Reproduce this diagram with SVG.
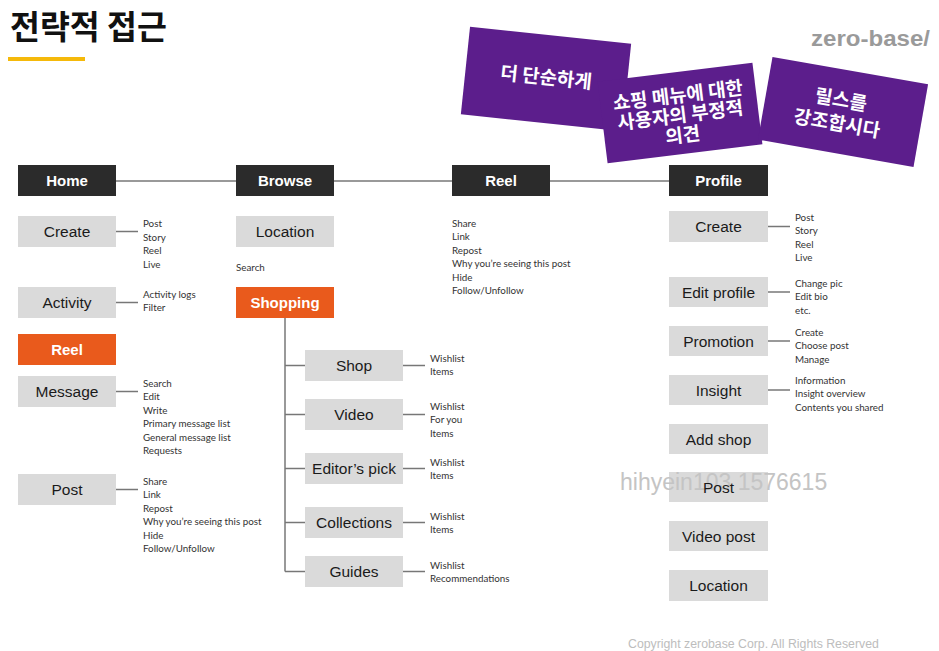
<svg xmlns="http://www.w3.org/2000/svg" width="939" height="651" viewBox="0 0 939 651">
<style>
.hd{fill:#2b2b2b}
.gb{fill:#dadada}
.ob{fill:#e95a1c}
.ht{font-family:"Liberation Sans",Arial,sans-serif;font-weight:bold;font-size:15px;fill:#fff;text-anchor:middle}
.gt{font-family:"Liberation Sans",Arial,sans-serif;font-size:15.5px;fill:#1a1a1a;text-anchor:middle}
.st{font-family:Lato,"Liberation Sans",sans-serif;font-size:9.8px;fill:#333}
.ln{stroke:#777;stroke-width:1.5;fill:none}
.note{fill:#5c1e8c}
.nt{font-family:"Noto Sans CJK KR",sans-serif;font-weight:bold;font-size:19px;fill:#fff;text-anchor:middle}
</style>
<rect width="939" height="651" fill="#fff"/>
<g id="title">
<text x="10" y="39" font-family="'Noto Sans CJK KR',sans-serif" font-weight="bold" font-size="32.5" fill="#111">전략적 접근</text>
<rect x="8" y="57" width="77" height="4" fill="#f5b90a"/>
</g>
<text id="logo" x="811" y="46" font-family="'Liberation Sans',Arial,sans-serif" font-weight="bold" font-size="22" fill="#9a9a9a" textLength="119" lengthAdjust="spacingAndGlyphs">zero-base/</text>

<g id="connectors">
<line class="ln" x1="116" y1="181" x2="669" y2="181"/>
<line class="ln" x1="116" y1="231.5" x2="138" y2="231.5"/>
<line class="ln" x1="116" y1="302.5" x2="138" y2="302.5"/>
<line class="ln" x1="116" y1="391.5" x2="138" y2="391.5"/>
<line class="ln" x1="116" y1="489.5" x2="138" y2="489.5"/>
<line class="ln" x1="285" y1="318" x2="285" y2="571.5"/>
<line class="ln" x1="285" y1="365.5" x2="305" y2="365.5"/>
<line class="ln" x1="285" y1="414.5" x2="305" y2="414.5"/>
<line class="ln" x1="285" y1="468.5" x2="305" y2="468.5"/>
<line class="ln" x1="285" y1="522.5" x2="305" y2="522.5"/>
<line class="ln" x1="285" y1="571.5" x2="305" y2="571.5"/>
<line class="ln" x1="403" y1="365.5" x2="425" y2="365.5"/>
<line class="ln" x1="403" y1="414.5" x2="425" y2="414.5"/>
<line class="ln" x1="403" y1="468.5" x2="425" y2="468.5"/>
<line class="ln" x1="403" y1="522.5" x2="425" y2="522.5"/>
<line class="ln" x1="403" y1="571.5" x2="425" y2="571.5"/>
<line class="ln" x1="768" y1="226.5" x2="790" y2="226.5"/>
<line class="ln" x1="768" y1="292" x2="790" y2="292"/>
<line class="ln" x1="768" y1="341" x2="790" y2="341"/>
<line class="ln" x1="768" y1="390" x2="790" y2="390"/>
</g>

<g id="home"><rect class="hd" x="18" y="165" width="98" height="31"/><text class="ht" x="67" y="186">Home</text></g>
<g id="browse"><rect class="hd" x="236" y="165" width="98" height="31"/><text class="ht" x="285" y="186">Browse</text></g>
<g id="reel"><rect class="hd" x="452" y="165" width="98" height="31"/><text class="ht" x="501" y="186">Reel</text></g>
<g id="profile"><rect class="hd" x="669" y="165" width="99" height="31"/><text class="ht" x="718.5" y="186">Profile</text></g>

<g id="home-create"><rect class="gb" x="18" y="216" width="98" height="31"/><text class="gt" x="67" y="237">Create</text>
<text class="st" x="143" y="227">Post</text><text class="st" x="143" y="240.5">Story</text><text class="st" x="143" y="254">Reel</text><text class="st" x="143" y="267.5">Live</text></g>
<g id="home-activity"><rect class="gb" x="18" y="287" width="98" height="31"/><text class="gt" x="67" y="308">Activity</text>
<text class="st" x="143" y="297.5">Activity logs</text><text class="st" x="143" y="311">Filter</text></g>
<g id="home-reel"><rect class="ob" x="18" y="334" width="98" height="31"/><text class="ht" x="67" y="355">Reel</text></g>
<g id="home-message"><rect class="gb" x="18" y="376" width="98" height="31"/><text class="gt" x="67" y="397">Message</text>
<text class="st" x="143" y="386.5">Search</text><text class="st" x="143" y="400">Edit</text><text class="st" x="143" y="413.5">Write</text><text class="st" x="143" y="427">Primary message list</text><text class="st" x="143" y="440.5">General message list</text><text class="st" x="143" y="454">Requests</text></g>
<g id="home-post"><rect class="gb" x="18" y="474" width="98" height="31"/><text class="gt" x="67" y="495">Post</text>
<text class="st" x="143" y="484.5">Share</text><text class="st" x="143" y="498">Link</text><text class="st" x="143" y="511.5">Repost</text><text class="st" x="143" y="525">Why you’re seeing this post</text><text class="st" x="143" y="538.5">Hide</text><text class="st" x="143" y="552">Follow/Unfollow</text></g>

<g id="browse-location"><rect class="gb" x="236" y="216" width="98" height="31"/><text class="gt" x="285" y="237">Location</text>
<text class="st" x="236" y="270.5">Search</text></g>
<g id="browse-shopping"><rect class="ob" x="236" y="287" width="98" height="31"/><text class="ht" x="285" y="308">Shopping</text></g>
<g id="shop"><rect class="gb" x="305" y="350" width="98" height="31"/><text class="gt" x="354" y="371">Shop</text>
<text class="st" x="430" y="361.5">Wishlist</text><text class="st" x="430" y="375">Items</text></g>
<g id="video"><rect class="gb" x="305" y="399" width="98" height="31"/><text class="gt" x="354" y="420">Video</text>
<text class="st" x="430" y="409.5">Wishlist</text><text class="st" x="430" y="423">For you</text><text class="st" x="430" y="436.5">Items</text></g>
<g id="editors-pick"><rect class="gb" x="305" y="453" width="98" height="31"/><text class="gt" x="354" y="474">Editor’s pick</text>
<text class="st" x="430" y="465.5">Wishlist</text><text class="st" x="430" y="479">Items</text></g>
<g id="collections"><rect class="gb" x="305" y="507" width="98" height="31"/><text class="gt" x="354" y="528">Collections</text>
<text class="st" x="430" y="519.5">Wishlist</text><text class="st" x="430" y="533">Items</text></g>
<g id="guides"><rect class="gb" x="305" y="556" width="98" height="31"/><text class="gt" x="354" y="577">Guides</text>
<text class="st" x="430" y="568.5">Wishlist</text><text class="st" x="430" y="582">Recommendations</text></g>

<g id="reel-items">
<text class="st" x="452" y="226.5">Share</text><text class="st" x="452" y="240">Link</text><text class="st" x="452" y="253.5">Repost</text><text class="st" x="452" y="267">Why you’re seeing this post</text><text class="st" x="452" y="280.5">Hide</text><text class="st" x="452" y="294">Follow/Unfollow</text>
</g>

<g id="profile-create"><rect class="gb" x="669" y="211" width="99" height="31"/><text class="gt" x="718.5" y="232">Create</text>
<text class="st" x="795" y="220.5">Post</text><text class="st" x="795" y="234">Story</text><text class="st" x="795" y="247.5">Reel</text><text class="st" x="795" y="261">Live</text></g>
<g id="edit-profile"><rect class="gb" x="669" y="277" width="99" height="30"/><text class="gt" x="718.5" y="297.5">Edit profile</text>
<text class="st" x="795" y="286.5">Change pic</text><text class="st" x="795" y="300">Edit bio</text><text class="st" x="795" y="313.5">etc.</text></g>
<g id="promotion"><rect class="gb" x="669" y="326" width="99" height="30"/><text class="gt" x="718.5" y="346.5">Promotion</text>
<text class="st" x="795" y="335.5">Create</text><text class="st" x="795" y="349">Choose post</text><text class="st" x="795" y="362.5">Manage</text></g>
<g id="insight"><rect class="gb" x="669" y="375" width="99" height="30"/><text class="gt" x="718.5" y="395.5">Insight</text>
<text class="st" x="795" y="383.5">Information</text><text class="st" x="795" y="397">Insight overview</text><text class="st" x="795" y="410.5">Contents you shared</text></g>
<g id="add-shop"><rect class="gb" x="669" y="424" width="99" height="30"/><text class="gt" x="718.5" y="444.5">Add shop</text></g>
<g id="profile-post"><rect class="gb" x="669" y="472" width="99" height="30"/>
<text x="620" y="490" font-family="'Liberation Sans',Arial,sans-serif" font-size="23" fill="#c4c4c4">hihyein103 1576615</text>
<text class="gt" x="718.5" y="492.5">Post</text></g>
<g id="video-post"><rect class="gb" x="669" y="521" width="99" height="30"/><text class="gt" x="718.5" y="541.5">Video post</text></g>
<g id="profile-location"><rect class="gb" x="669" y="570" width="99" height="31"/><text class="gt" x="718.5" y="591">Location</text></g>

<g id="note1" transform="translate(546,79) rotate(6)">
<rect class="note" x="-81" y="-44" width="162" height="88"/>
<text class="nt" x="0" y="5">더 단순하게</text>
</g>
<g id="note2" transform="translate(680,113) rotate(-7)">
<rect class="note" x="-78" y="-41" width="156" height="82"/>
<text class="nt" x="0" y="-11">쇼핑 메뉴에 대한</text>
<text class="nt" x="0" y="9">사용자의 부정적</text>
<text class="nt" x="0" y="29">의견</text>
</g>
<g id="note3" transform="translate(843,112) rotate(10)">
<rect class="note" x="-79" y="-42" width="158" height="84"/>
<text class="nt" x="-4" y="-5">릴스를</text>
<text class="nt" x="-4" y="19">강조합시다</text>
</g>

<text id="copyright" x="628" y="648" font-family="'Liberation Sans',Arial,sans-serif" font-size="12.3" fill="#bdbdbd">Copyright zerobase Corp. All Rights Reserved</text>
</svg>
